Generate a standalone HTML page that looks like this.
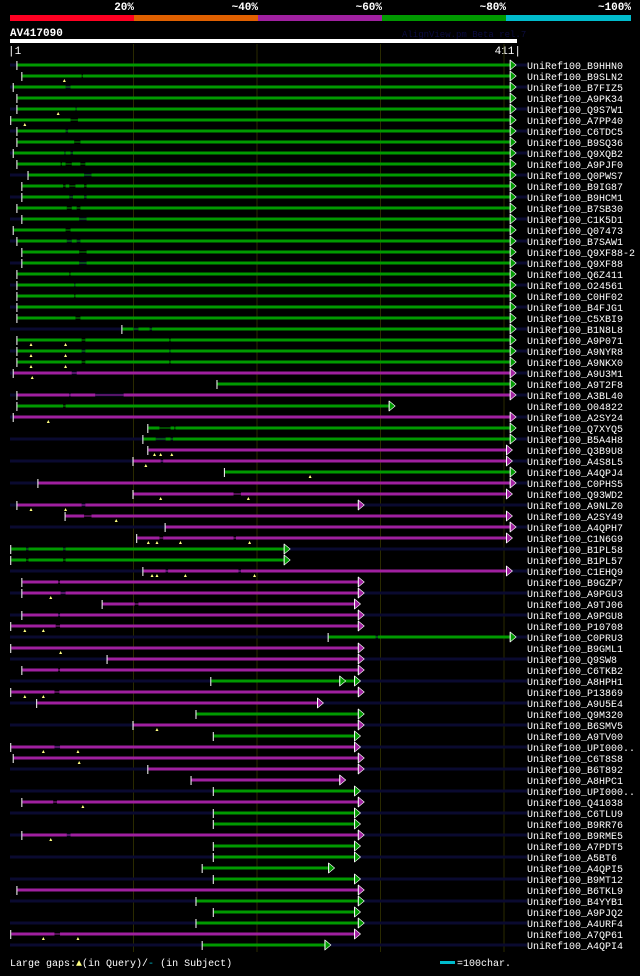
<!DOCTYPE html>
<html><head><meta charset="utf-8"><style>
body{margin:0;background:#000;width:640px;height:971px;overflow:hidden;font-family:"Liberation Mono",monospace;}
svg text{font-family:"Liberation Mono",monospace;}
</style></head><body>
<svg id="chart" width="640" height="971" xmlns="http://www.w3.org/2000/svg">
<rect width="640" height="971" fill="#000"/>
<g id="hdr">
<rect x="10" y="15" width="124" height="6" fill="#ff0022"/>
<rect x="134" y="15" width="124" height="6" fill="#e06000"/>
<rect x="258" y="15" width="124" height="6" fill="#a020a0"/>
<rect x="382" y="15" width="124" height="6" fill="#009900"/>
<rect x="506" y="15" width="125" height="6" fill="#00bbcc"/>
<g font-size="11" font-weight="bold" fill="#fff" text-anchor="end">
<text x="134" y="10">20%</text>
<text x="258" y="10">~40%</text>
<text x="382" y="10">~60%</text>
<text x="506" y="10">~80%</text>
<text x="631" y="10">~100%</text>
</g>
<text x="10" y="36" font-size="11" font-weight="bold" fill="#fff">AV417090</text>
<text x="402" y="37" font-size="9" fill="#0c0c40">AlignView.pm Beta rel.7</text>
<rect x="10" y="39" width="507" height="4" fill="#fff"/>
<text x="8" y="54" font-size="11" fill="#fff">|1</text>
<text x="521" y="54" font-size="11" fill="#fff" text-anchor="end">411|</text>
</g>
<g id="grid"></g>
<g id="rows"></g>
<g>
<text x="10" y="966" font-size="10" fill="#fff">Large gaps:<tspan fill="#ffff80">▲</tspan>(in Query)/<tspan fill="#00bbcc">-</tspan> (in Subject)</text>
<rect x="440" y="961" width="15" height="3" fill="#00bbcc"/>
<text x="457" y="966" font-size="10" fill="#fff">=100char.</text>
</g>
</svg>
<script>
const names=["B9HHN0","B9SLN2","B7FIZ5","A9PK34","Q9S7W1","A7PP40","C6TDC5","B9SQ36","Q9XQB2","A9PJF0","Q0PWS7","B9IG87","B9HCM1","B7SB30","C1K5D1","Q07473","B7SAW1","Q9XF88-2","Q9XF88","Q6Z411","O24561","C0HF02","B4FJG1","C5XBI9","B1N8L8","A9P071","A9NYR8","A9NKX0","A9U3M1","A9T2F8","A3BL40","O04822","A2SY24","Q7XYQ5","B5A4H8","Q3B9U8","A4S8L5","A4QPJ4","C0PHS5","Q93WD2","A9NLZ0","A2SY49","A4QPH7","C1N6G9","B1PL58","B1PL57","C1EHQ9","B9GZP7","A9PGU3","A9TJ06","A9PGU8","P10708","C0PRU3","B9GML1","Q9SW8","C6TKB2","A8HPH1","P13869","A9U5E4","Q9M320","B6SMV5","A9TV00","UPI000..","C6T8S8","B6T892","A8HPC1","UPI000..","Q41038","C6TLU9","B9RR76","B9RME5","A7PDT5","A5BT6","A4QPI5","B9MT12","B6TKL9","B4YYB1","A9PJQ2","A4URF4","A7QP61","A4QPI4"];
const starts=[6,10,3,6,6,1,6,6,3,6,15,10,10,6,10,3,6,10,10,6,6,6,6,6,91,6,6,6,3,168,6,6,3,112,108,112,100,174,23,100,6,45,126,103,1,1,108,10,10,75,10,1,258,1,79,10,163,1,22,151,100,165,1,3,112,147,165,10,165,165,10,165,165,156,165,6,151,165,151,1,156];
const ends=[405,405,405,405,405,405,405,405,405,405,405,405,405,405,405,405,405,405,405,405,405,405,405,405,405,405,405,405,405,405,405,307,405,405,405,402,402,405,405,402,282,402,405,402,222,222,402,282,282,279,282,282,405,282,282,282,279,282,249,282,282,279,279,282,282,267,279,282,279,279,282,279,279,258,279,282,282,279,282,279,255];
const kinds="gggggggggggggggggggggggggggg"+"mgmgm"+"ggmmgmmmmmm"+"ggmmmmmm"+"gmmmg"+"mmgmg"+"mmmmg"+"mggm"+"ggggm"+"gggmg";
const hasSubjectLine=[1,0,1,0,1,0,1,0,1,0,1,0,1,0,1,0,1,0,1,0,1,0,1,0,1,0,1,0,1,0,1,0,1,0,1,0,1,0,1,0,1,0,1,0,1,0,1,0,1,0,1,0,1,0,1,0,1,0,1,0,1,0,1,0,1,0,1,0,1,0,1,0,1,0,1,0,1,0,1,0,1];
const subjectGaps=[[],[[58,59]],[[45,49]],[],[[53,54]],[[49,55]],[[45,47]],[[52,57]],[[44,45],[49,51]],[[41,42],[45,50],[57,61]],[[60,66]],[[43,45],[48,53],[60,62]],[[48,51],[60,62]],[[46,50],[54,57]],[[56,62]],[[45,49]],[[46,50],[54,57]],[[56,62]],[[56,62]],[[48,49]],[[52,53]],[[52,53]],[],[[53,57]],[[100,104],[113,115]],[[58,61],[129,130]],[[58,61],[129,130]],[[58,61],[129,130]],[[50,54]],[],[[48,49],[69,92]],[[43,45]],[],[[121,130],[133,134]],[[118,126],[130,132]],[],[[122,124]],[],[],[[181,187]],[[58,61]],[[60,66]],[],[[121,124],[181,183]],[[13,15],[43,45]],[[13,15],[43,45]],[[126,128],[185,187]],[[39,40.5]],[[41,45]],[[101,104]],[[39,40.5]],[[37,40.5]],[[296,298]],[],[],[[39,40.5]],[],[[36,40]],[],[],[],[],[[36,40.5]],[],[],[],[],[[35,38]],[],[],[[46,49]],[],[],[],[],[],[],[],[],[[36,40.5]],[]];
const queryGaps=[[],[44],[],[],[39],[12],[],[],[],[],[],[],[],[],[],[],[],[],[],[],[],[],[],[],[],[17,45],[17,45],[17,45],[18],[],[],[],[31],[],[],[117,122,131],[110],[243],[],[122,193],[17,45],[86],[],[112,119,138,194],[],[],[115,119,142,198],[],[33],[],[],[12,27],[],[41],[],[],[],[12,27],[],[],[119],[],[27,55],[56],[],[],[],[59],[],[],[33],[],[],[],[],[],[],[],[],[27,55],[]];
const extraArrows={56:267};

const NS="http://www.w3.org/2000/svg";
const X=p=>10+p*1.235;
const rowY=i=>65+i*11;
const COL={g:"#009900",m:"#a020a0"};
function mk(tag,attrs){const e=document.createElementNS(NS,tag);for(const k in attrs)e.setAttribute(k,attrs[k]);return e;}
const grid=document.getElementById('grid');
[100,200,300,400].forEach(p=>{
  const l=mk('line',{x1:X(p),x2:X(p),y1:44,y2:952,stroke:'#2a2a00','stroke-width':1});
  
  
  grid.appendChild(l);
});
const rows=document.getElementById('rows');
names.forEach((n,i)=>{
  const y=rowY(i);const c=COL[kinds[i]];
  const g=mk('g',{});
  
  
  if(hasSubjectLine[i]){
    const s=mk('rect',{x:10,y:y-1.5,width:517,height:3,fill:'#0a0a30'});
    
    
    g.appendChild(s);
  }
  const x0=X(starts[i]);
  let segs=[];let cur=starts[i];
  subjectGaps[i].forEach(gp=>{segs.push([cur,gp[0]]);
    const gl=mk('rect',{x:X(gp[0]),y:y-0.5,width:X(gp[1])-X(gp[0]),height:1,fill:c});
    
    
    g.appendChild(gl);cur=gp[1];});
  segs.push([cur,ends[i]]);
  segs.forEach(s=>{
    const r=mk('rect',{x:X(s[0]),y:y-1.5,width:Math.max(0,X(s[1])-X(s[0])),height:3,fill:c});
    
    
    g.appendChild(r);
  });
  const t=mk('rect',{x:x0-1,y:y-4,width:1,height:9,fill:'#fff'});
  
  
  g.appendChild(t);
  const arrows=[ends[i]];if(extraArrows[i])arrows.push(extraArrows[i]);
  arrows.forEach(e=>{const ax=X(e);
    const a=mk('polygon',{points:`${ax},${y-5} ${ax+6},${y} ${ax},${y+5}`,fill:c,stroke:'#fff','stroke-width':0.6});
    
    
    g.appendChild(a);
    const al=mk('rect',{x:ax-0.5,y:y-5,width:1,height:10,fill:'#fff'});
    
    
    g.appendChild(al);
  });
  queryGaps[i].forEach(q=>{
    const m=mk('polygon',{points:`${X(q)-1.5},${y+6} ${X(q)},${y+3} ${X(q)+1.5},${y+6}`,fill:'#ffff80'});
    
    
    g.appendChild(m);
  });
  const lb=mk('text',{x:527,y:y+4,'font-size':10,fill:'#fff'});
  lb.textContent='UniRef100_'+n;
  
  
  g.appendChild(lb);
  rows.appendChild(g);
});
</script>
</body></html>
